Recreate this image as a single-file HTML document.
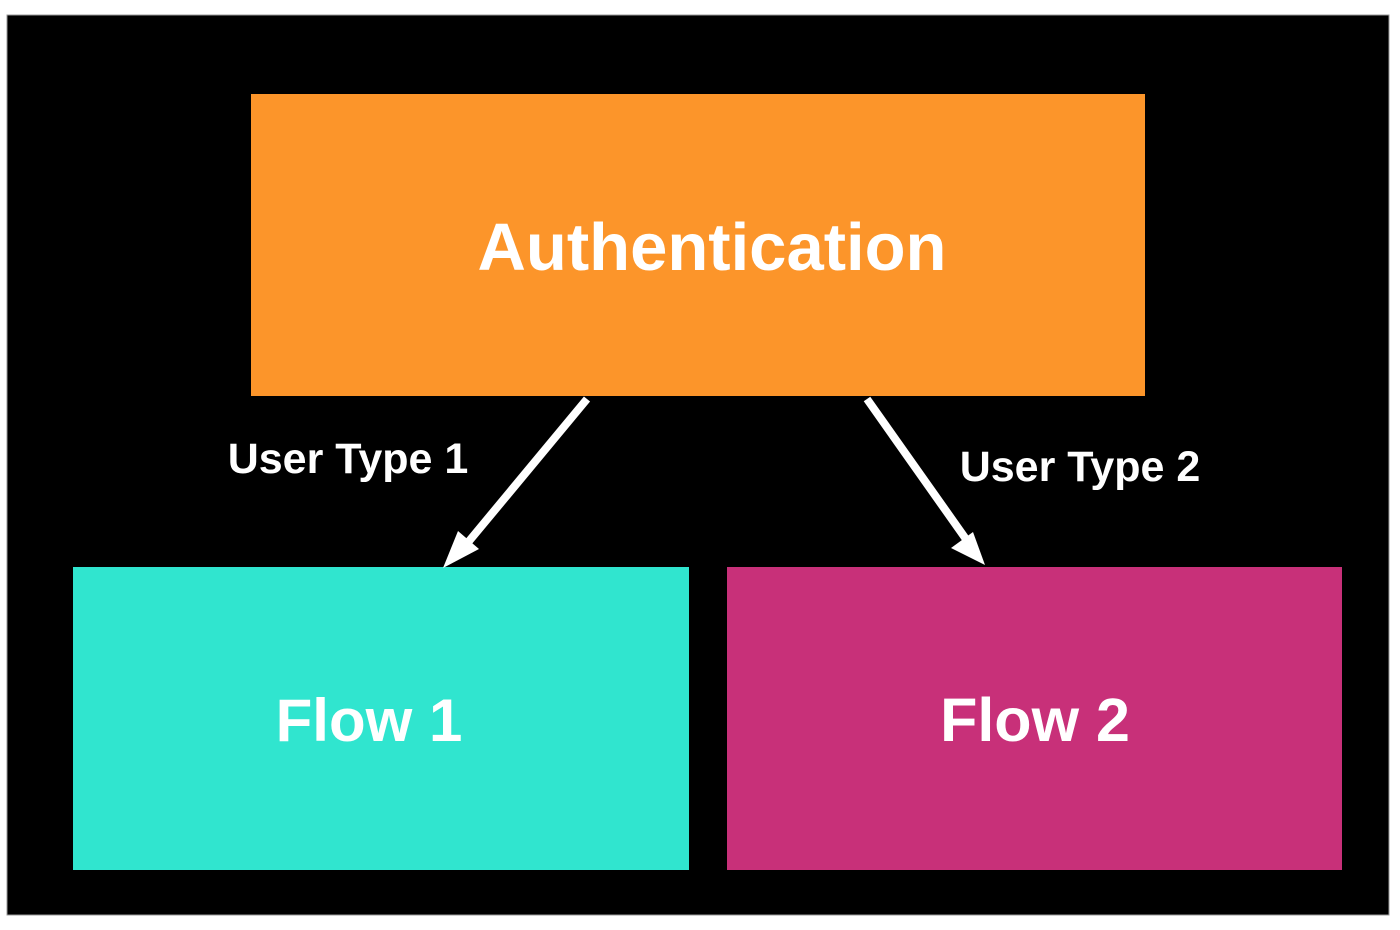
<!DOCTYPE html>
<html><head><style>
body{margin:0;width:1400px;height:930px;background:#fff;overflow:hidden}
</style></head><body>
<svg width="1400" height="930" xmlns="http://www.w3.org/2000/svg" style="position:absolute;left:0;top:0">
<rect x="7" y="15" width="1382" height="900" fill="#000" stroke="#999" stroke-width="1"/>
<rect x="251" y="94" width="894" height="302" fill="#fc952a"/>
<rect x="73" y="567" width="616" height="303" fill="#30e5cf"/>
<rect x="727" y="567" width="615" height="303" fill="#c83079"/>
<g font-family="Liberation Sans, sans-serif" font-weight="bold" fill="#fff" text-anchor="middle">
<text x="712" y="270" font-size="67">Authentication</text>
<text x="369" y="741" font-size="60">Flow 1</text>
<text x="1035" y="741" font-size="61">Flow 2</text>
<text x="348" y="473" font-size="43">User Type 1</text>
<text x="1080" y="481" font-size="43">User Type 2</text>
</g>
<g stroke="#fff" stroke-width="8" fill="none">
<line x1="587" y1="399" x2="465" y2="546"/>
<line x1="867" y1="399" x2="968" y2="542"/>
</g>
<polygon points="443,568 458,531 479,549" fill="#fff"/>
<polygon points="985,565 951,548 973,532" fill="#fff"/>
</svg>
</body></html>
